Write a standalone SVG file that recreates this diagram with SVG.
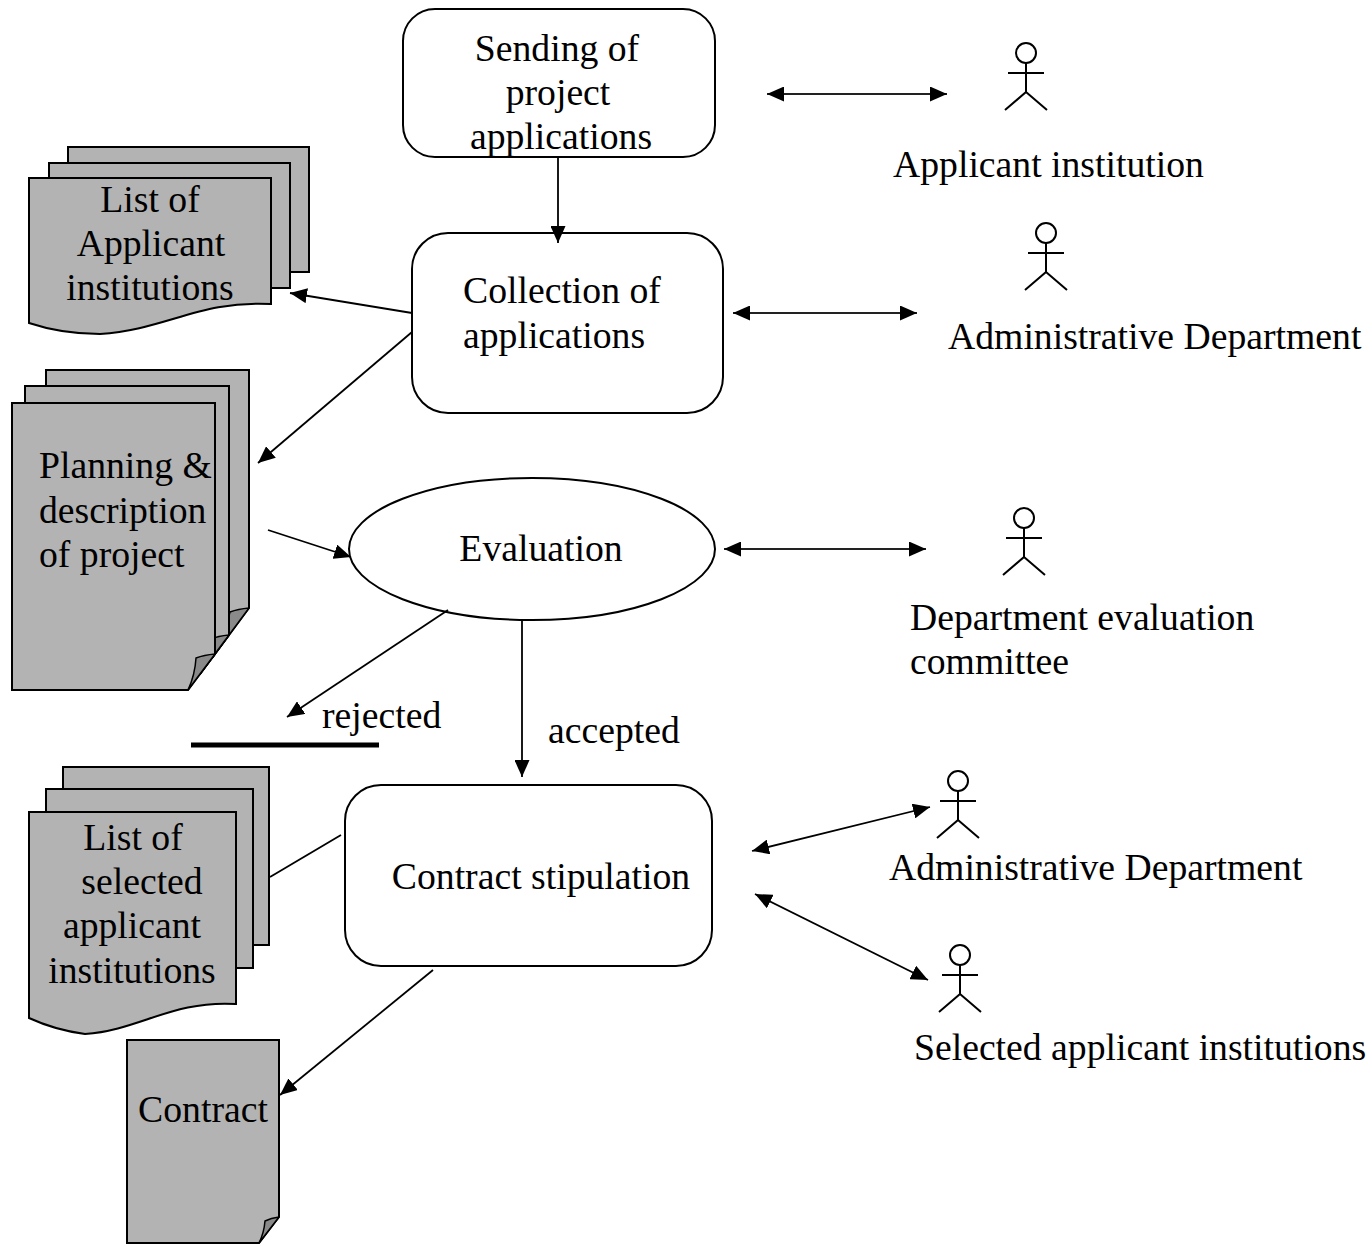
<svg xmlns="http://www.w3.org/2000/svg" width="1370" height="1246" viewBox="0 0 1370 1246">
<style>
text{font-family:"Liberation Serif","Times New Roman",serif;font-size:37.7px;fill:#000}
.box{fill:#fff;stroke:#000;stroke-width:2}
.doc{fill:#b3b3b3;stroke:#000;stroke-width:2;stroke-linejoin:miter}
.curl{fill:#8a8a8a;stroke:#000;stroke-width:1.5;stroke-linejoin:round}
.act{fill:none;stroke:#000;stroke-width:2}
.con{fill:none;stroke:#000;stroke-width:1.8}
.dbl{fill:none;stroke:#222;stroke-width:2.2}
.mid{text-anchor:middle}
</style>
<defs>
<marker id="ah" viewBox="0 0 17 15" refX="17" refY="7.5" markerWidth="17" markerHeight="15" markerUnits="userSpaceOnUse" orient="auto-start-reverse">
<path d="M0,0 L17,7.5 L0,15 z" fill="#000"/>
</marker>
</defs>

<g id="sending">
<rect class="box" x="403" y="9" width="312" height="148" rx="32" ry="32"/>
<text class="mid" x="557" y="61">Sending of</text>
<text class="mid" x="558" y="105">project</text>
<text class="mid" x="561" y="149">applications</text>
</g>

<g id="collection">
<rect class="box" x="412" y="233" width="311" height="180" rx="36" ry="36"/>
<text x="463" y="303">Collection of</text>
<text x="463" y="348">applications</text>
</g>

<g id="evaluation">
<ellipse class="box" cx="532" cy="549" rx="183" ry="71"/>
<text class="mid" x="541" y="561">Evaluation</text>
</g>

<g id="contract-stipulation">
<rect class="box" x="345" y="785" width="367" height="181" rx="36" ry="36"/>
<text class="mid" x="541" y="889">Contract stipulation</text>
</g>

<g id="doc-list-applicants">
<rect class="doc" x="68" y="147" width="241" height="125"/>
<rect class="doc" x="49" y="163" width="241" height="125"/>
<path class="doc" d="M29,178 H271 V304 C200,300 165,330 100,334 Q62,334 29,323 Z"/>
<text class="mid" x="150" y="212">List of</text>
<text class="mid" x="151" y="256">Applicant</text>
<text class="mid" x="150" y="300">institutions</text>
</g>

<g id="doc-planning">
<polygon class="doc" points="46,370 249,370 249,608 212,658 46,658"/>
<path class="curl" d="M249,608 Q238,609 230,612 Q226,630 212,658 Z"/>
<polygon class="doc" points="25,386 229,386 229,635 200,674 25,674"/>
<path class="curl" d="M229,635 Q218,636 211,639 Q208,655 200,674 Z"/>
<polygon class="doc" points="12,403 215,403 215,654 188,690 12,690"/>
<path class="curl" d="M215,654 Q204,655 196,658 Q195,675 188,690 Z"/>
<text x="39" y="478">Planning &amp;</text>
<text x="39" y="523">description</text>
<text x="39" y="567">of project</text>
</g>

<g id="doc-list-selected">
<rect class="doc" x="63" y="767" width="206" height="178"/>
<rect class="doc" x="46" y="789" width="207" height="179"/>
<path class="doc" d="M29,812 H236 V1004 C172,1000 140,1030 85,1034 Q55,1030 29,1018 Z"/>
<text class="mid" x="133" y="850">List of</text>
<text class="mid" x="142" y="894">selected</text>
<text class="mid" x="132" y="938">applicant</text>
<text class="mid" x="132" y="983">institutions</text>
</g>

<g id="doc-contract">
<polygon class="doc" points="127,1040 279,1040 279,1217 259,1243 127,1243"/>
<path class="curl" d="M279,1217 Q271,1218 265,1221 Q264,1233 259,1243 Z"/>
<text class="mid" x="203" y="1122">Contract</text>
</g>

<g id="actor-applicant">
<g class="act" transform="translate(1026,53)">
<circle r="10" cx="0" cy="0"/>
<path d="M-18,20 H18 M0,10 V39 L-21,57 M0,39 L21,57"/>
</g>
<text x="893" y="177">Applicant institution</text>
</g>

<g id="actor-admin-1">
<g class="act" transform="translate(1046,233)">
<circle r="10" cx="0" cy="0"/>
<path d="M-18,20 H18 M0,10 V39 L-21,57 M0,39 L21,57"/>
</g>
<text x="948" y="349">Administrative Department</text>
</g>

<g id="actor-committee">
<g class="act" transform="translate(1024,518)">
<circle r="10" cx="0" cy="0"/>
<path d="M-18,20 H18 M0,10 V39 L-21,57 M0,39 L21,57"/>
</g>
<text x="910" y="630">Department evaluation</text>
<text x="910" y="674">committee</text>
</g>

<g id="actor-admin-2">
<g class="act" transform="translate(958,781)">
<circle r="10" cx="0" cy="0"/>
<path d="M-18,20 H18 M0,10 V39 L-21,57 M0,39 L21,57"/>
</g>
<text x="889" y="880">Administrative Department</text>
</g>

<g id="actor-selected">
<g class="act" transform="translate(960,955)">
<circle r="10" cx="0" cy="0"/>
<path d="M-18,20 H18 M0,10 V39 L-21,57 M0,39 L21,57"/>
</g>
<text x="914" y="1060">Selected applicant institutions</text>
</g>

<g id="connectors">
<line class="con" x1="558" y1="157" x2="558" y2="243" marker-end="url(#ah)"/>
<line class="con" x1="412" y1="313" x2="290" y2="293" marker-end="url(#ah)"/>
<line class="con" x1="412" y1="332" x2="258" y2="463" marker-end="url(#ah)"/>
<line class="con" x1="268" y1="530" x2="351" y2="557" marker-end="url(#ah)"/>
<line class="con" x1="448" y1="610" x2="287" y2="717" marker-end="url(#ah)"/>
<line x1="191" y1="745" x2="379" y2="745" stroke="#000" stroke-width="5"/>
<text x="322" y="728">rejected</text>
<line class="con" x1="522" y1="619" x2="522" y2="777" marker-end="url(#ah)"/>
<text x="548" y="743">accepted</text>
<line class="con" x1="270" y1="877" x2="341" y2="835"/>
<line class="con" x1="433" y1="970" x2="280" y2="1095" marker-end="url(#ah)"/>
<line class="dbl" x1="767" y1="94" x2="947" y2="94" marker-start="url(#ah)" marker-end="url(#ah)"/>
<line class="dbl" x1="733" y1="313" x2="917" y2="313" marker-start="url(#ah)" marker-end="url(#ah)"/>
<line class="dbl" x1="724" y1="549" x2="926" y2="549" marker-start="url(#ah)" marker-end="url(#ah)"/>
<line class="con" x1="752" y1="851" x2="930" y2="807" marker-start="url(#ah)" marker-end="url(#ah)"/>
<line class="con" x1="755" y1="894" x2="928" y2="980" marker-start="url(#ah)" marker-end="url(#ah)"/>
</g>
</svg>
